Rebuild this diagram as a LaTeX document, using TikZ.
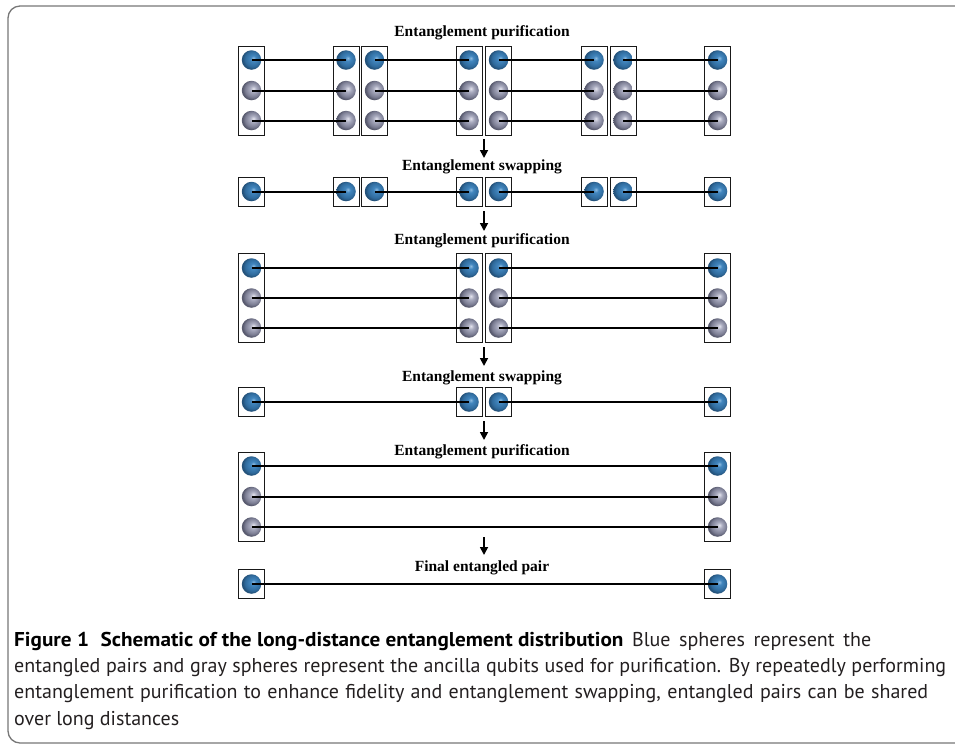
\documentclass[tikz,border=0pt]{standalone}
\usepackage{graphicx}
\usepackage{fontspec}
\setmainfont{Liberation Serif}
\newfontfamily\capfont{PT Sans}
\usetikzlibrary{arrows.meta}
\definecolor{bhi}{HTML}{8DBBE0}
\definecolor{bmid}{HTML}{4286BE}
\definecolor{bdark}{HTML}{2F6A9C}
\definecolor{bedge}{HTML}{24527A}
\definecolor{ghi}{HTML}{E4E4EE}
\definecolor{gmid}{HTML}{A9ABBF}
\definecolor{gdark}{HTML}{7A7C92}
\definecolor{gedge}{HTML}{585A6E}
\definecolor{framegray}{HTML}{777777}
\definecolor{captxt}{HTML}{231F20}
\pgfdeclareradialshading{blueball}{\pgfpoint{5bp}{5bp}}{color(0bp)=(bhi); color(7bp)=(bmid); color(20bp)=(bdark); color(25bp)=(bedge); color(50bp)=(bedge)}
\pgfdeclareradialshading{grayball}{\pgfpoint{5bp}{5bp}}{color(0bp)=(ghi); color(8bp)=(gmid); color(20bp)=(gdark); color(25bp)=(gedge); color(50bp)=(gedge)}
\tikzset{
  tallbox/.style={draw=black!90, line width=1pt, minimum width=26pt, minimum height=89pt, inner sep=0pt},
  shortbox/.style={draw=black!90, line width=1pt, minimum width=26pt, minimum height=29pt, inner sep=0pt},
  bball/.style={circle, minimum size=19.5pt, inner sep=0pt, shading=blueball},
  gball/.style={circle, minimum size=19.5pt, inner sep=0pt, shading=grayball},
  link/.style={line width=2pt, black},
  flow/.style={line width=1.7pt, black, -{Triangle[length=8pt,width=8pt]}},
  steptitle/.style={font=\bfseries\fontsize{15.5}{18}\selectfont, inner sep=0pt},
  captext/.style={font=\capfont\fontsize{20}{24}\selectfont, text=captxt, inner sep=0pt, anchor=base west}
}
\begin{document}
\begin{tikzpicture}[x=1pt, y=-1pt]
\useasboundingbox (0,0) rectangle (955,748);
\draw[framegray, line width=1.3pt, rounded corners=12pt] (8,6) rectangle (985,743);

% titles
\node[steptitle] (t1) at (482,33) {Entanglement purification};
\node[steptitle] (t2) at (482,167) {Entanglement swapping};
\node[steptitle] (t3) at (482,241) {Entanglement purification};
\node[steptitle] (t4) at (482,378) {Entanglement swapping};
\node[steptitle] (t5) at (482,452) {Entanglement purification};
\node[steptitle] (t6) at (482,568) {Final entangled pair};

% row 1: purification, 8 stations
\foreach \i/\x in {1/251.5,2/346,3/374.5,4/469,5/498.5,6/594,7/623,8/717.5}{
  \node[tallbox] (A\i) at (\x,90.5) {};
  \foreach \k/\y/\c in {1/60/bball,2/90.5/gball,3/120.5/gball}
    \node[\c] (A\i-\k) at (\x,\y) {};
}
\foreach \p/\q in {1/2,3/4,5/6,7/8}
  \foreach \k in {1,2,3}
    \draw[link] (A\p-\k.center) -- (A\q-\k.center);

% row 2: swapping, 8 stations
\foreach \i/\x in {1/251.5,2/346,3/374.5,4/469,5/498.5,6/594,7/623,8/717.5}{
  \node[shortbox] (B\i) at (\x,191.5) {};
  \node[bball] (B\i-1) at (\x,191.5) {};
}
\foreach \p/\q in {1/2,3/4,5/6,7/8}
  \draw[link] (B\p-1.center) -- (B\q-1.center);

% row 3: purification, 4 stations
\foreach \i/\x in {1/251.5,2/469,3/498.5,4/717.5}{
  \node[tallbox] (C\i) at (\x,298) {};
  \foreach \k/\y/\c in {1/268/bball,2/298/gball,3/328/gball}
    \node[\c] (C\i-\k) at (\x,\y) {};
}
\foreach \p/\q in {1/2,3/4}
  \foreach \k in {1,2,3}
    \draw[link] (C\p-\k.center) -- (C\q-\k.center);

% row 4: swapping, 4 stations
\foreach \i/\x in {1/251.5,2/469,3/498.5,4/717.5}{
  \node[shortbox] (D\i) at (\x,402) {};
  \node[bball] (D\i-1) at (\x,402) {};
}
\foreach \p/\q in {1/2,3/4}
  \draw[link] (D\p-1.center) -- (D\q-1.center);

% row 5: purification, 2 stations
\foreach \i/\x in {1/251.5,2/717.5}{
  \node[tallbox] (E\i) at (\x,496.5) {};
  \foreach \k/\y/\c in {1/466/bball,2/496.5/gball,3/527/gball}
    \node[\c] (E\i-\k) at (\x,\y) {};
}
\foreach \k in {1,2,3}
  \draw[link] (E1-\k.center) -- (E2-\k.center);

% row 6: final pair
\foreach \i/\x in {1/251.5,2/717.5}{
  \node[shortbox] (F\i) at (\x,584) {};
  \node[bball] (F\i-1) at (\x,584) {};
}
\draw[link] (F1-1.center) -- (F2-1.center);

% arrows
\coordinate (u1) at (484,139); \coordinate (v1) at (484,158);
\coordinate (u2) at (484,211); \coordinate (v2) at (484,231);
\coordinate (u3) at (484,347); \coordinate (v3) at (484,366);
\coordinate (u4) at (484,421); \coordinate (v4) at (484,440);
\coordinate (u5) at (484,537); \coordinate (v5) at (484,555);
\foreach \n in {1,...,5}
  \draw[flow] (u\n) -- (v\n);

% caption
\node[captext] (c1) at (14,646) {\makebox[857pt][s]{\scalebox{1.06}[1]{\bfseries\color{black}Figure 1\hspace{0.55em}Schematic of the long-distance entanglement distribution} Blue spheres represent the}};
\node[captext] (c2) at (14,672) {\makebox[932pt][s]{entangled pairs and gray spheres represent the ancilla qubits used for purification. By repeatedly performing}};
\node[captext] (c3) at (14,698) {\makebox[914pt][s]{entanglement purification to enhance fidelity and entanglement swapping, entangled pairs can be shared}};
\node[captext] (c4) at (14,725) {over long distances};
\end{tikzpicture}
\end{document}
